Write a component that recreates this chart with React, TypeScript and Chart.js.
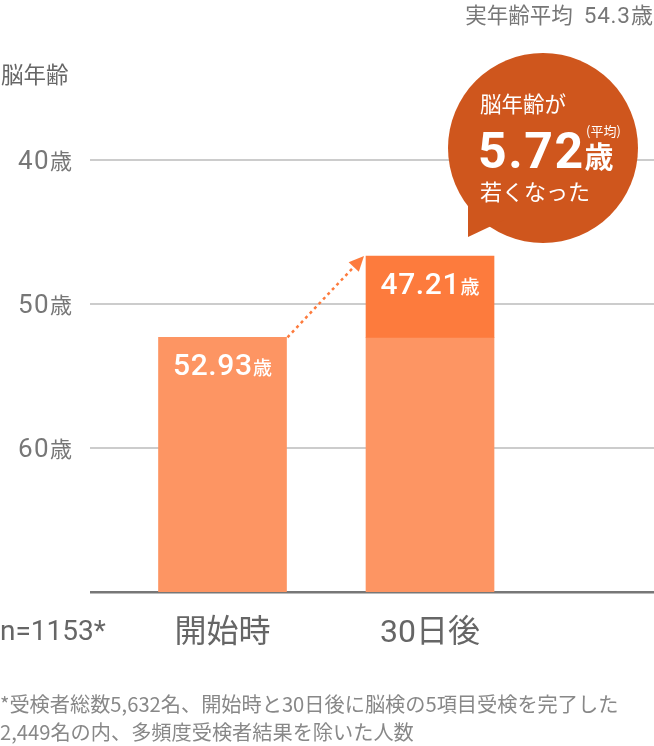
import React, { useEffect, useRef } from 'react';
import { Chart, registerables } from 'chart.js';

Chart.register(...registerables);

// ---- data ----
const categories = ['開始時', '30日後'];
const categoryPositions = [1, 2];
const baseAge = 70;
const startBrainAge = [52.3, 52.3];
const afterBrainAge = [46.65];
const afterPosition = [2];
const valueLabels = ['52.93', '47.21'];
const yTickValues = [40, 50, 60, 70];
const yTickLabels = ['40', '50', '60'];
const ageUnit = '歳';
const yTitle = '脳年齢';
const realAgeLabel = '実年齢平均';
const realAgeValue = '54.3';
const bubbleLine1 = '脳年齢が';
const bubbleValue = '5.72';
const bubbleNote = '(平均)';
const bubbleLine3 = '若くなった';
const sampleLabel = 'n=1153*';
const footnoteLines = [
  '*受検者総数5,632名、開始時と30日後に脳検の5項目受検を完了した',
  '2,449名の内、多頻度受検者結果を除いた人数',
];

const LIGHT = '#FD9563';
const DARK = '#FD7B3D';
const BUBBLE = '#CF561D';
const CJK = '"Noto Sans CJK JP"';
const LAT = 'Roboto, "Noto Sans CJK JP"';

type Run = { t: string; f: string; ls?: number; after?: number };

function runWidth(ctx: CanvasRenderingContext2D, r: Run) {
  ctx.font = r.f;
  const ls = r.ls || 0;
  let w = 0;
  if (ls) {
    for (const ch of r.t) w += ctx.measureText(ch).width + ls;
    w -= ls;
  } else {
    w = ctx.measureText(r.t).width;
  }
  return w + (r.after || 0);
}

function drawRuns(ctx: CanvasRenderingContext2D, runs: Run[], x: number, y: number, align: 'left' | 'right' | 'center', color: string) {
  ctx.save();
  ctx.textBaseline = 'alphabetic';
  ctx.textAlign = 'left';
  ctx.fillStyle = color;
  let total = 0;
  for (const r of runs) total += runWidth(ctx, r);
  let cx = align === 'left' ? x : align === 'right' ? x - total : x - total / 2;
  for (const r of runs) {
    ctx.font = r.f;
    const ls = r.ls || 0;
    if (ls) {
      for (const ch of r.t) {
        ctx.fillText(ch, cx, y);
        cx += ctx.measureText(ch).width + ls;
      }
      cx -= ls;
    } else {
      ctx.fillText(r.t, cx, y);
      cx += ctx.measureText(r.t).width;
    }
    cx += r.after || 0;
  }
  ctx.restore();
}

const topOf = (el: any) => Math.min(el.y, el.base);

const overlayPlugin = {
  id: 'overlay',
  afterDatasetsDraw(chart: any) {
    const ctx: CanvasRenderingContext2D = chart.ctx;
    const y = chart.scales.y;
    const x = chart.scales.x;
    const m0 = chart.getDatasetMeta(0).data;
    const m1 = chart.getDatasetMeta(1).data;

    // tick labels
    yTickLabels.forEach((lab, i) => {
      const py = y.getPixelForValue(yTickValues[i]);
      drawRuns(ctx, [{ t: lab, f: `400 26px ${LAT}`, ls: 1.2, after: 1.5 }, { t: ageUnit, f: `400 22px ${CJK}` }], 72, py + 9, 'right', '#777');
    });

    // y title
    drawRuns(ctx, [{ t: yTitle, f: `400 22.5px ${CJK}` }], 1, 83, 'left', '#666');

    // real age
    drawRuns(ctx, [
      { t: realAgeLabel, f: `400 21.5px ${CJK}`, after: 11 },
      { t: realAgeValue, f: `400 22.5px ${LAT}`, ls: 0.8, after: 1 },
      { t: ageUnit, f: `400 22px ${CJK}` },
    ], 653, 23, 'right', '#777');

    // category labels
    categories.forEach((c, i) => {
      const px = x.getPixelForValue(categoryPositions[i]);
      drawRuns(ctx, [{ t: c, f: `400 32px ${LAT}` }], px, 642, 'center', '#666');
    });
    drawRuns(ctx, [{ t: sampleLabel, f: `400 28px ${LAT}` }], 0, 640, 'left', '#666');

    // footnotes
    footnoteLines.forEach((l, i) => {
      drawRuns(ctx, [{ t: l, f: `400 20.2px ${CJK}` }], 0, 712 + i * 28, 'left', '#888');
    });

    // bar value labels
    const tops = [m0[0], m1[0]];
    tops.forEach((el: any, i: number) => {
      drawRuns(ctx, [{ t: valueLabels[i], f: `500 30px ${LAT}`, ls: 0.6, after: 1 }, { t: ageUnit, f: `500 19px ${CJK}` }], el.x, topOf(el) + 38, 'center', '#fff');
    });

    // dotted arrow
    const b1: any = m0[0];
    const b2: any = m1[0];
    const sx = b1.x + b1.width / 2 + 1;
    const sy = topOf(b1);
    const tx = b2.x - b2.width / 2 - 2;
    const ty = topOf(b2);
    const ang = Math.atan2(ty - sy, tx - sx);
    const headLen = 15;
    const ex = tx - Math.cos(ang) * headLen;
    const ey = ty - Math.sin(ang) * headLen;
    ctx.save();
    ctx.strokeStyle = DARK;
    ctx.lineWidth = 2.5;
    ctx.setLineDash([3, 3.5]);
    ctx.beginPath();
    ctx.moveTo(sx, sy);
    ctx.lineTo(ex, ey);
    ctx.stroke();
    ctx.setLineDash([]);
    ctx.fillStyle = DARK;
    ctx.beginPath();
    ctx.moveTo(tx, ty);
    ctx.lineTo(ex + Math.cos(ang + Math.PI / 2) * 7, ey + Math.sin(ang + Math.PI / 2) * 7);
    ctx.lineTo(ex + Math.cos(ang - Math.PI / 2) * 7, ey + Math.sin(ang - Math.PI / 2) * 7);
    ctx.closePath();
    ctx.fill();
    ctx.restore();

    // bubble
    ctx.save();
    ctx.fillStyle = BUBBLE;
    ctx.beginPath();
    ctx.arc(543, 148, 95, 0, Math.PI * 2);
    ctx.fill();
    ctx.beginPath();
    ctx.moveTo(468, 196);
    ctx.lineTo(468, 237);
    ctx.lineTo(504, 220);
    ctx.closePath();
    ctx.fill();
    ctx.restore();
    drawRuns(ctx, [{ t: bubbleLine1, f: `400 21.5px ${CJK}` }], 480, 112, 'left', '#fff');
    drawRuns(ctx, [{ t: bubbleValue, f: `700 50px ${LAT}`, ls: 1.5, after: 1.5 }, { t: ageUnit, f: `700 29px ${CJK}` }], 478, 168, 'left', '#fff');
    drawRuns(ctx, [{ t: bubbleNote, f: `400 13px ${CJK}` }], 586, 136, 'left', '#fff');
    drawRuns(ctx, [{ t: bubbleLine3, f: `400 22px ${CJK}` }], 480, 200, 'left', '#fff');
  },
};

export default function App() {
  const ref = useRef<HTMLCanvasElement | null>(null);
  useEffect(() => {
    if (!ref.current) return;
    const chart = new Chart(ref.current, {
      type: 'bar',
      data: {
        datasets: [
          {
            data: categoryPositions.map((p, i) => ({ x: p, y: [baseAge, startBrainAge[i]] })) as any,
            backgroundColor: LIGHT,
            barThickness: 128,
            grouped: false,
            order: 2,
          } as any,
          {
            data: afterPosition.map((p, i) => ({ x: p, y: [startBrainAge[1], afterBrainAge[i]] })) as any,
            backgroundColor: DARK,
            barThickness: 128,
            grouped: false,
            order: 1,
          } as any,
        ],
      },
      options: {
        responsive: false,
        animation: false,
        layout: { padding: { top: 74, bottom: 154, left: 0, right: 0 } },
        plugins: { legend: { display: false }, tooltip: { enabled: false } },
        scales: {
          x: {
            type: 'linear',
            display: false,
            offset: false,
            min: 0.3614,
            max: 3.0795,
          },
          y: {
            reverse: true,
            min: 34,
            max: 70,
            afterBuildTicks: (s: any) => {
              s.ticks = yTickValues.map((v) => ({ value: v }));
            },
            afterFit: (s: any) => {
              s.width = 90;
            },
            ticks: { display: false },
            border: { display: false },
            grid: {
              drawTicks: false,
              color: (c: any) => (c.tick && c.tick.value === 70 ? '#777' : '#ccc'),
              lineWidth: (c: any) => (c.tick && c.tick.value === 70 ? 2.5 : 2),
            },
          },
        },
      },
      plugins: [overlayPlugin],
    });
    return () => chart.destroy();
  }, []);
  return (
    <div style={{ position: 'absolute', left: 0, top: 0, width: 654, height: 746, background: '#fff' }}>
      <canvas ref={ref} width={654} height={746} style={{ display: 'block', width: 654, height: 746 }} />
    </div>
  );
}
